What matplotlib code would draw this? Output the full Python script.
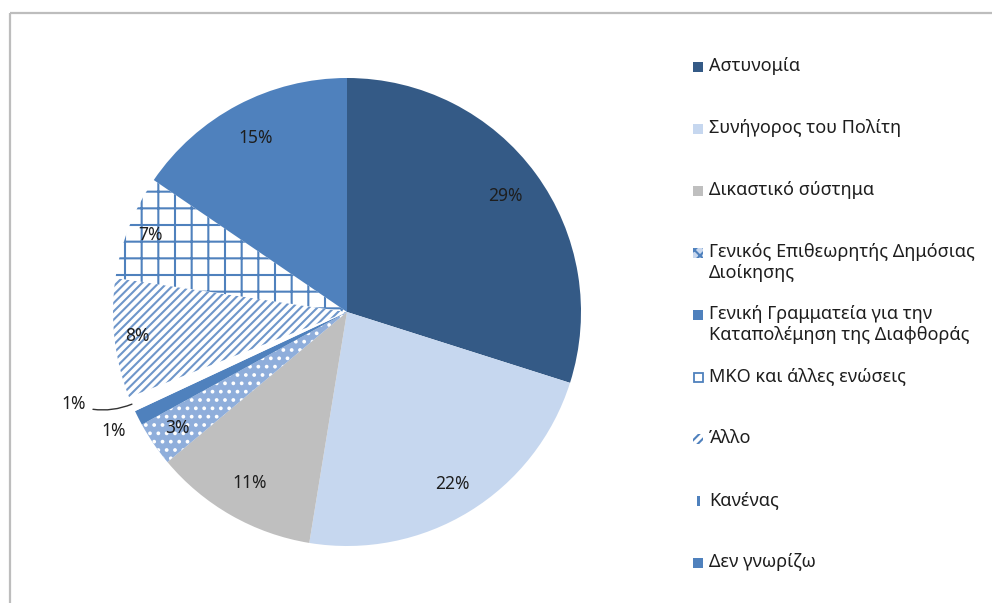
import matplotlib
matplotlib.use("Agg")
import matplotlib.pyplot as plt
from matplotlib.patches import Rectangle
import numpy as np

plt.rcParams['font.family'] = ['Noto Sans', 'DejaVu Sans']
plt.rcParams['hatch.linewidth'] = 1.5

# share of answers (%)
categories = [
    "Αστυνομία",
    "Συνήγορος του Πολίτη",
    "Δικαστικό σύστημα",
    "Γενικός Επιθεωρητής Δημόσιας\nΔιοίκησης",
    "Γενική Γραμματεία για την\nΚαταπολέμηση της Διαφθοράς",
    "ΜΚΟ και άλλες ενώσεις",
    "Άλλο",
    "Κανένας",
    "Δεν γνωρίζω",
]
values = [29, 22, 11, 3, 1, 1, 8, 7, 15]

BLUE = "#4F81BD"
TXT = "#1E1E1E"
faces = ["#345A86", "#C6D7EF", "#BFBFBF", "#8FAEDB", BLUE, "white", "white", "white", BLUE]
hatch_col = [None, None, None, "white", None, None, "#6E96CA", BLUE, None]
hatches = [None, None, None, "..", None, None, "////", "+", None]
label_r = [0.84, 0.86, 0.84, 0.88, 1.12, None, 0.9, 0.9, 0.84]

W, H = 992, 603
fig = plt.figure(figsize=(W / 100, H / 100), dpi=100)

# overlay axes in pixel units for frame and legend
lax = fig.add_axes([0, 0, 1, 1])
lax.set_xlim(0, W)
lax.set_ylim(H, 0)
lax.axis("off")
lax.add_patch(Rectangle((9.5, 12.5), W + 20, H + 20, fill=False,
                        edgecolor="#BDBDBD", linewidth=1.6))

cx, cy, r = 347, 312, 234
ax = fig.add_axes([(cx - r) / W, (H - cy - r) / H, 2 * r / W, 2 * r / H])
wedges, _ = ax.pie(values, colors=faces, startangle=90, counterclock=False,
                   radius=1.0, hatch=hatches)
for w, hc in zip(wedges, hatch_col):
    w.set_linewidth(0)
    if hc is not None:
        w.set_edgecolor(hc)
ax.set_xlim(-1, 1)
ax.set_ylim(-1, 1)
ax.axis("off")

for w, v, lr in zip(wedges, values, label_r):
    th = np.deg2rad((w.theta1 + w.theta2) / 2)
    if lr is None:
        ax.annotate(f"{v}%", xy=(np.cos(th), np.sin(th)), xytext=(-33, 0),
                    textcoords="offset points", ha="right", va="center",
                    fontsize=12.5, color=TXT,
                    arrowprops=dict(arrowstyle="-", color="#333333", lw=1,
                                    shrinkA=3, shrinkB=0,
                                    connectionstyle="arc3,rad=0.2"))
        continue
    ax.text(lr * np.cos(th), lr * np.sin(th), f"{v}%", ha="center", va="center",
            fontsize=12.5, color=TXT)

# legend drawn entry by entry
y0, step = 67, 62
for i, lab in enumerate(categories):
    y = y0 + i * step
    if hatches[i] is None and faces[i] != "white":
        lax.add_patch(Rectangle((693, y - 5), 10, 10, facecolor=faces[i], linewidth=0))
    elif hatches[i] is None:
        lax.add_patch(Rectangle((693.5, y - 4.5), 9, 9, facecolor="white",
                                edgecolor=BLUE, linewidth=1.3))
    elif hatches[i] == "+":
        lax.add_patch(Rectangle((697, y - 5), 2.5, 10, facecolor=BLUE, linewidth=0))
    else:
        mark = "xxx" if hatches[i] == ".." else "////"
        fc = "#C9D8EE" if hatches[i] == ".." else "white"
        lax.add_patch(Rectangle((693, y - 5), 10, 10, facecolor=fc, edgecolor=BLUE,
                                linewidth=0, hatch=mark))
    lax.text(709, y - 10, lab, ha="left", va="top", fontsize=13,
             color=TXT, linespacing=1.2)

fig.savefig("out.png", dpi=100)
